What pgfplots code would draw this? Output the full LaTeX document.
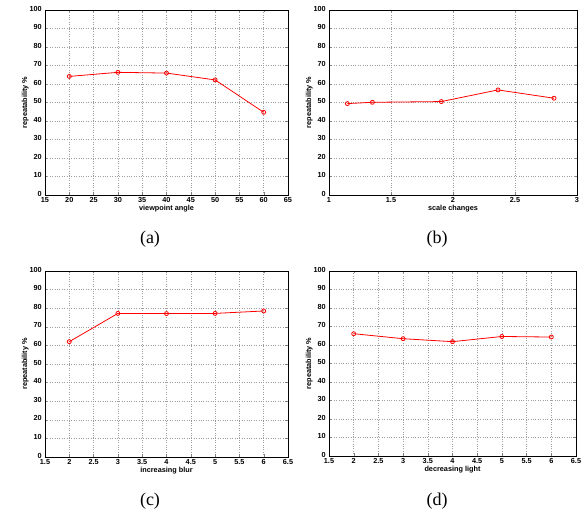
\documentclass[border=0pt]{standalone}
\usepackage{fontspec}
\setmainfont{Liberation Serif}
\newfontfamily\hv{Liberation Sans}
\usepackage{pgfplots}
\pgfplotsset{compat=1.18}
\pgfplotsset{
  rep/.style={
    scale only axis,
    anchor=south west,
    ymin=0, ymax=100, ytick={0,10,...,100},
    grid=major,
    major grid style={dotted, gray!75, line width=0.5pt},
    tick align=inside,
    major tick length=2.5pt,
    axis line style={line width=0.6pt},
    /pgf/number format/assume math mode=true,
    ticklabel style={font=\hv\bfseries\fontsize{7.3}{8}\selectfont},
    label style={font=\hv\bfseries\fontsize{7.3}{8}\selectfont},
    ylabel={repeatability \%},
    xlabel style={yshift=4pt},
    ylabel style={yshift=-6pt},
    xticklabel style={yshift=1pt},
    yticklabel style={xshift=0.3pt, yshift=1.5pt},
  },
  ln/.style={red, line width=0.8pt, mark=o, mark size=2pt, mark options={solid, line width=0.8pt}},
}
\begin{document}
\begin{tikzpicture}
\useasboundingbox (0pt,0pt) rectangle (584pt,513pt);
\begin{axis}[rep, at={(45pt,318pt)}, width=243pt, height=185pt,
  xmin=15, xmax=65, xtick={15,20,...,65}, xlabel={viewpoint angle}]
\addplot[ln] coordinates {(20,64.1) (30,66.3) (40,65.9) (50,62.2) (60,44.7)};
\end{axis}
\begin{axis}[rep, at={(329pt,318pt)}, width=248pt, height=185pt,
  xmin=1, xmax=3, xtick={1,1.5,...,3}, xlabel={scale changes}]
\addplot[ln] coordinates {(1.148,49.4) (1.35,50.1) (1.906,50.5) (2.363,56.8) (2.815,52.3)};
\end{axis}
\begin{axis}[rep, at={(45pt,56pt)}, width=243pt, height=186pt,
  xmin=1.5, xmax=6.5, xtick={1.5,2,...,6.5}, xlabel={increasing blur}]
\addplot[ln] coordinates {(2,62.0) (3,77.2) (4,77.1) (5,77.2) (6,78.5)};
\end{axis}
\begin{axis}[rep, at={(329pt,57pt)}, width=247pt, height=185pt,
  xmin=1.5, xmax=6.5, xtick={1.5,2,...,6.5}, xlabel={decreasing light}]
\addplot[ln] coordinates {(2,66.1) (3,63.4) (4,61.8) (5,64.6) (6,64.3)};
\end{axis}
\node[font=\fontsize{18}{20}\selectfont] at (150pt,274pt) {(a)};
\node[font=\fontsize{18}{20}\selectfont] at (437pt,274pt) {(b)};
\node[font=\fontsize{18}{20}\selectfont] at (150pt,12pt) {(c)};
\node[font=\fontsize{18}{20}\selectfont] at (437pt,12pt) {(d)};
\end{tikzpicture}
\end{document}
